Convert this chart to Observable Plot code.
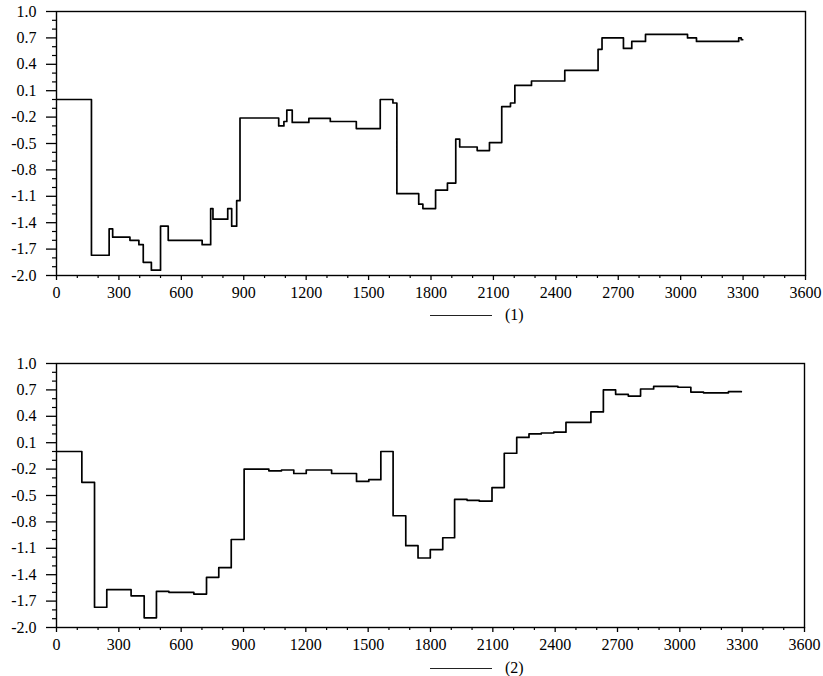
<!DOCTYPE html>
<html>
<head>
<meta charset="utf-8">
<script src="https://cdn.jsdelivr.net/npm/d3@7"></script>
<script src="https://cdn.jsdelivr.net/npm/@observablehq/plot@0.6"></script>
<style>
  html, body { margin: 0; padding: 0; background: #fff; }
  #wrap { position: relative; width: 823px; height: 676px; overflow: hidden; font-family: "Liberation Serif", "Times New Roman", serif; }
  .panel { position: absolute; left: 0; }
  .panel text { font-family: "Liberation Serif", "Times New Roman", serif; font-size: 16px; }
  .legend { position: absolute; display: flex; align-items: center; font-size: 16px; color: #000; font-family: "Liberation Serif", "Times New Roman", serif; }
  .legend .sw { width: 62px; height: 0; border-top: 1.3px solid #222; margin-right: 13px; }
</style>
</head>
<body>
<div id="wrap"></div>
<script>
// Series (1): step change points and values
const t1 = [0,168,253,270,353,396,417,456,500,537,700,741,752,823,842,866,882,1068,1093,1107,1133,1213,1316,1441,1556,1617,1636,1741,1761,1822,1879,1919,1938,2022,2081,2140,2182,2203,2283,2443,2603,2622,2725,2765,2831,3033,3076,3279,3291,3298];
const v1 = [0.00,-1.77,-1.47,-1.565,-1.60,-1.65,-1.85,-1.94,-1.44,-1.60,-1.65,-1.24,-1.36,-1.24,-1.44,-1.15,-0.21,-0.30,-0.25,-0.12,-0.26,-0.215,-0.25,-0.33,0.00,-0.04,-1.07,-1.19,-1.24,-1.03,-0.95,-0.45,-0.54,-0.58,-0.49,-0.08,-0.04,0.16,0.21,0.33,0.57,0.70,0.58,0.66,0.74,0.70,0.66,0.70,0.68,0.68];

// Series (2)
const t2 = [0,122,183,242,359,422,481,541,661,722,781,841,903,1022,1083,1142,1202,1324,1444,1503,1561,1620,1681,1740,1799,1859,1916,1976,2035,2096,2155,2215,2274,2333,2393,2452,2572,2632,2691,2752,2811,2874,2991,3053,3114,3234,3296];
const v2 = [0.00,-0.35,-1.77,-1.57,-1.64,-1.89,-1.59,-1.60,-1.62,-1.43,-1.32,-1.00,-0.20,-0.22,-0.21,-0.25,-0.21,-0.25,-0.34,-0.32,0.00,-0.73,-1.07,-1.21,-1.115,-0.98,-0.545,-0.555,-0.565,-0.41,-0.02,0.16,0.20,0.21,0.22,0.33,0.45,0.70,0.65,0.63,0.71,0.74,0.73,0.675,0.667,0.68,0.68];

// Axis ticks
const xTicks = [0,300,600,900,1200,1500,1800,2100,2400,2700,3000,3300,3600];
const xMinor = [100,200,400,500,700,800,1000,1100,1300,1400,1600,1700,1900,2000,2200,2300,2500,2600,2800,2900,3100,3200,3400,3500];
const yTicks = [-2.0,-1.7,-1.4,-1.1,-0.8,-0.5,-0.2,0.1,0.4,0.7,1.0];
const yMinor = [-1.9,-1.8,-1.6,-1.5,-1.3,-1.2,-1.0,-0.9,-0.7,-0.6,-0.4,-0.3,-0.1,0.0,0.2,0.3,0.5,0.6,0.8,0.9];

const legendLabels = ["(1)", "(2)"];
const FONT = "Liberation Serif";

function panel(t, v, marginRight) {
  const data = t.map((x, i) => ({x, y: v[i]}));
  return Plot.plot({
    width: 823,
    height: 301,
    marginLeft: 56,
    marginRight,
    marginTop: 11,
    marginBottom: 26,
    style: {fontFamily: FONT, fontSize: "16px", background: "transparent", color: "#000", overflow: "visible"},
    x: {domain: [0, 3600], label: null},
    y: {domain: [-2, 1], label: null},
    marks: [
      Plot.axisY(yMinor, {tickSize: 4, tickFormat: () => "", strokeWidth: 1.2}),
      Plot.axisY(yTicks, {tickSize: 10, tickPadding: 10, tickFormat: d => d.toFixed(1), strokeWidth: 1.3, fontSize: 16, fontFamily: FONT, stroke: "#000", strokeWidth: 1.3}),
      Plot.axisX(xMinor, {tickSize: 3, tickFormat: () => "", strokeWidth: 1.2}),
      Plot.axisX(xTicks, {tickSize: 5, tickPadding: 6, tickFormat: d => String(d), strokeWidth: 1.3, fontSize: 16, fontFamily: FONT}),
      Plot.frame({stroke: "#000", strokeWidth: 1.4}),
      Plot.line(data, {x: "x", y: "y", curve: "step-after", stroke: "#000", strokeWidth: 1.7})
    ]
  });
}

const wrap = document.getElementById("wrap");
const tops = [0, 352];
[[t1, v1, 18], [t2, v2, 19]].forEach(([t, v, mr], i) => {
  const el = panel(t, v, mr);
  el.classList.add("panel");
  el.style.top = tops[i] + "px";
  wrap.appendChild(el);
  const lg = document.createElement("div");
  lg.className = "legend";
  lg.style.left = "430px";
  lg.style.top = (i === 0 ? 306 : 659) + "px";
  lg.innerHTML = `<span class="sw"></span><span>${legendLabels[i]}</span>`;
  wrap.appendChild(lg);
});
</script>
</body>
</html>
